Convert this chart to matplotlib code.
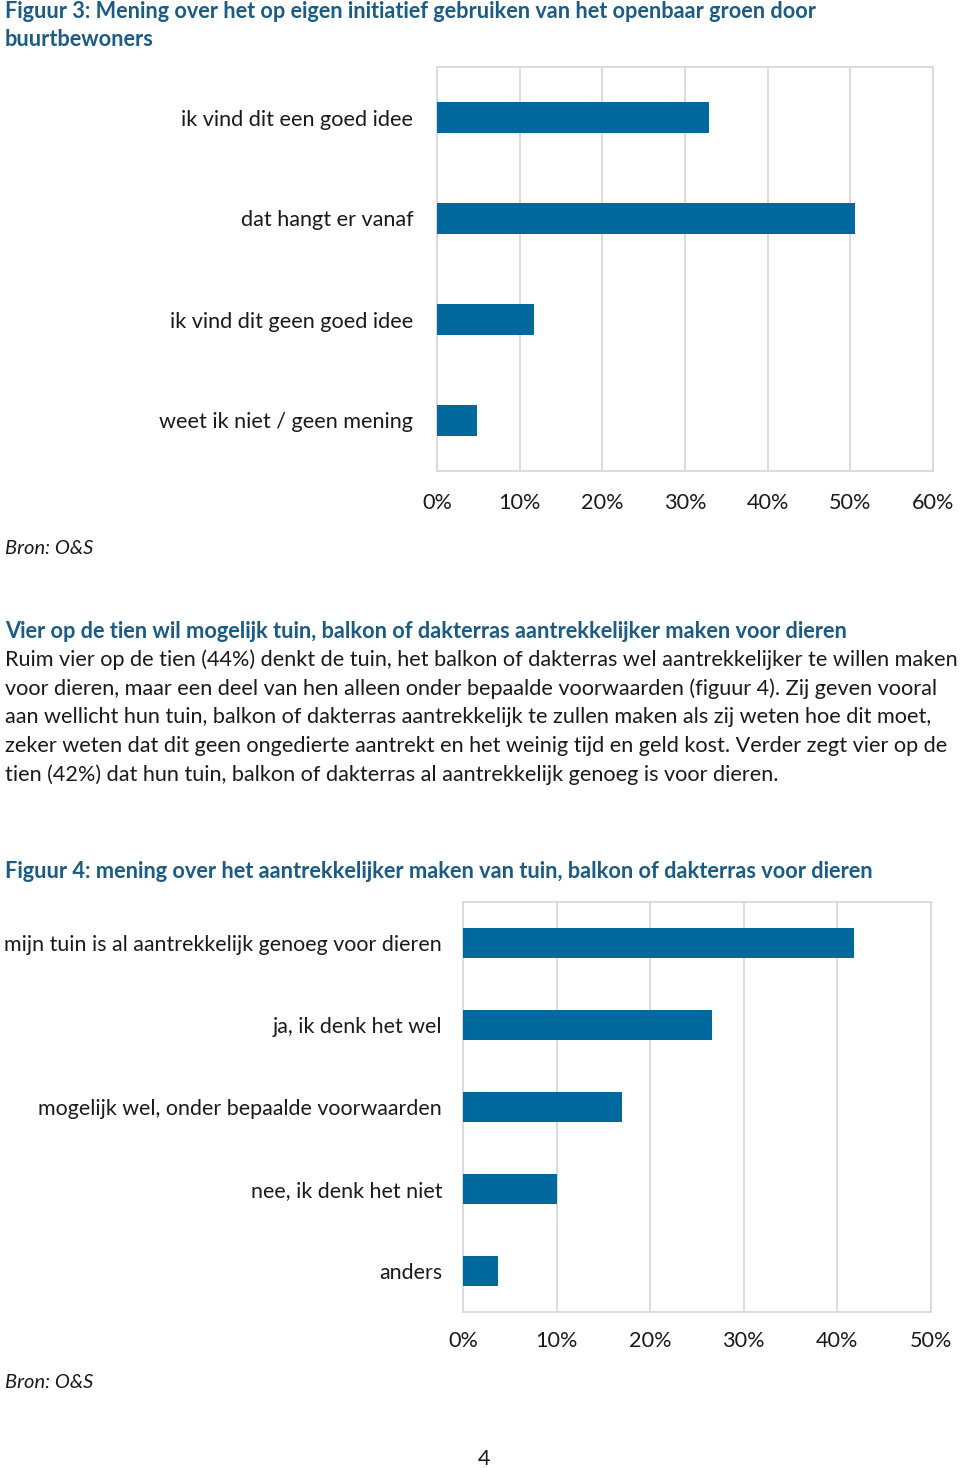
import matplotlib
matplotlib.use("Agg")
import matplotlib.pyplot as plt
from matplotlib.ticker import FuncFormatter

# ---------------- data ----------------
fig3_categories = ["ik vind dit een goed idee", "dat hangt er vanaf",
                   "ik vind dit geen goed idee", "weet ik niet / geen mening"]
fig3_values = [32.9, 50.6, 11.7, 4.8]
fig3_ticks = [0, 10, 20, 30, 40, 50, 60]

fig4_categories = ["mijn tuin is al aantrekkelijk genoeg voor dieren", "ja, ik denk het wel",
                   "mogelijk wel, onder bepaalde voorwaarden", "nee, ik denk het niet", "anders"]
fig4_values = [41.8, 26.6, 17.0, 10.0, 3.7]
fig4_ticks = [0, 10, 20, 30, 40, 50]

title3 = ["Figuur 3: Mening over het op eigen initiatief gebruiken van het openbaar groen door",
          "buurtbewoners"]
heading = "Vier op de tien wil mogelijk tuin, balkon of dakterras aantrekkelijker maken voor dieren"
body = ["Ruim vier op de tien (44%) denkt de tuin, het balkon of dakterras wel aantrekkelijker te willen maken",
        "voor dieren, maar een deel van hen alleen onder bepaalde voorwaarden (figuur 4). Zij geven vooral",
        "aan wellicht hun tuin, balkon of dakterras aantrekkelijk te zullen maken als zij weten hoe dit moet,",
        "zeker weten dat dit geen ongedierte aantrekt en het weinig tijd en geld kost. Verder zegt vier op de",
        "tien (42%) dat hun tuin, balkon of dakterras al aantrekkelijk genoeg is voor dieren."]
title4 = "Figuur 4: mening over het aantrekkelijker maken van tuin, balkon of dakterras voor dieren"
source = "Bron: O&S"
page = "4"

# ---------------- style ----------------
W, H = 960, 1468
FONT = "Lato"
BAR = "#02699E"
HEAD = "#1A5C86"
GRID = "#D9D9D9"
TXT = "#1A1A1A"
FS = 15.6

plt.rcParams["font.family"] = [FONT, "DejaVu Sans"]
fig = plt.figure(figsize=(W / 100, H / 100), dpi=100)
fig.patch.set_facecolor("white")


def fx(x):
    return x / W


def fy(y):
    return 1 - y / H


def add_ax(left, top, right, bottom):
    return fig.add_axes([fx(left), fy(bottom), (right - left) / W, (bottom - top) / H])


def bar_chart(ax, cats, vals, ticks, height, xpad, ypad, fs):
    ys = list(range(len(cats)))
    ax.barh(ys, vals, height=height, color=BAR, zorder=3)
    ax.set_ylim(len(cats) - 0.5, -0.5)
    ax.set_xlim(ticks[0], ticks[-1])
    ax.set_yticks(ys)
    ax.set_yticklabels(cats, fontsize=fs, color=TXT)
    ax.set_xticks(ticks)
    ax.xaxis.set_major_formatter(FuncFormatter(lambda v, p: f"{v:.0f}%"))
    ax.tick_params(axis="x", length=0, pad=xpad, labelsize=FS, labelcolor=TXT)
    ax.tick_params(axis="y", length=0, pad=ypad)
    ax.grid(axis="x", color=GRID, linewidth=1.3, zorder=0)
    for s in ax.spines.values():
        s.set_color(GRID)
        s.set_linewidth(1.3)


# Figure 3 title
fig.text(fx(5), fy(11), title3[0], fontsize=FS, fontweight="bold", color=HEAD, va="center")
fig.text(fx(5), fy(39), title3[1], fontsize=FS, fontweight="bold", color=HEAD, va="center")

ax1 = add_ax(437, 67, 933, 471)
bar_chart(ax1, fig3_categories, fig3_values, fig3_ticks, 0.3, 16, 17, FS)

fig.text(fx(5), fy(548), source, fontsize=14.5, style="italic", color=TXT, va="center")

# Text block
fig.text(fx(5), fy(631), heading, fontsize=15.7, fontweight="bold", color=HEAD, va="center")
for i, line in enumerate(body):
    fig.text(fx(5), fy(660 + i * 28.6), line, fontsize=FS, color=TXT, va="center")

# Figure 4
fig.text(fx(5), fy(872), title4, fontsize=15.7, fontweight="bold", color=HEAD, va="center")

ax2 = add_ax(463, 902, 931, 1312)
bar_chart(ax2, fig4_categories, fig4_values, fig4_ticks, 0.366, 14, 15, 15.4)

fig.text(fx(5), fy(1383), source, fontsize=14.5, style="italic", color=TXT, va="center")
fig.text(fx(484), fy(1459), page, fontsize=FS, color=TXT, va="center", ha="center")

fig.savefig("out.png", dpi=100, facecolor="white")
